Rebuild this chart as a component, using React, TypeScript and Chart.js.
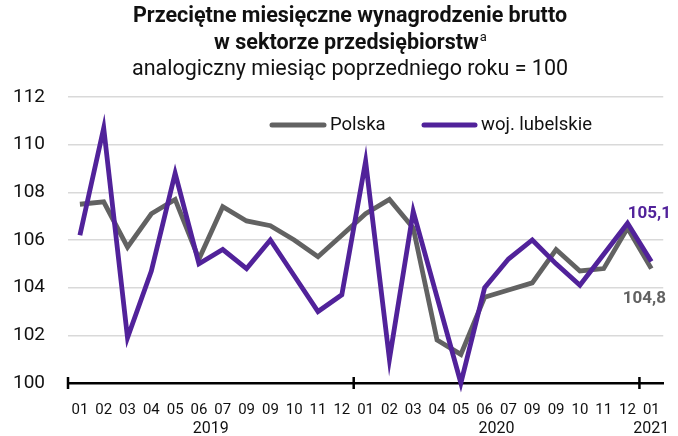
import React, { useEffect, useRef } from "react";
import { Chart, registerables } from "chart.js";

Chart.register(...registerables);

const monthLabels = [
  "01", "02", "03", "04", "05", "06", "07", "09", "09", "10", "11", "12",
  "01", "02", "03", "04", "05", "06", "07", "09", "09", "10", "11", "12",
  "01",
];
const yearLabels = ["2019", "2020", "2021"];
const yearStartIndex = [0, 12, 24];
const yearEndIndex = [11, 23, 24];

const polska = [
  107.5, 107.6, 105.7, 107.1, 107.7, 105.2, 107.4, 106.8, 106.6, 106.0, 105.3, 106.2,
  107.1, 107.7, 106.5, 101.8, 101.2, 103.6, 103.9, 104.2, 105.6, 104.7, 104.8, 106.5,
  104.8,
];
const lubelskie = [
  106.2, 110.7, 101.9, 104.7, 108.8, 105.0, 105.6, 104.8, 106.0, 104.5, 103.0, 103.7,
  109.3, 101.0, 107.2, 103.6, 100.0, 104.0, 105.2, 106.0, 105.0, 104.1, 105.4, 106.7,
  105.1,
];
const seriesNames = ["Polska", "woj. lubelskie"];
const yMin = 100;
const yMax = 112;
const yStep = 2;

const titleLine1 = "Przeciętne miesięczne wynagrodzenie brutto";
const titleLine2 = "w sektorze przedsiębiorstw";
const titleSup = "a";
const subtitle = "analogiczny miesiąc poprzedniego roku = 100";

const GRAY = "#626262";
const PURPLE = "#51229a";
const FONT = "Roboto, 'Noto Sans', sans-serif";

const fmt = (v: number) => v.toFixed(1).replace(".", ",");

const decorPlugin = {
  id: "decor",
  afterDraw(chart: any) {
    const ctx = chart.ctx;
    const xs = chart.scales.x;
    const area = chart.chartArea;
    ctx.save();

    // Title
    const cx = 350;
    ctx.fillStyle = "#111";
    ctx.textBaseline = "middle";
    ctx.textAlign = "center";
    ctx.font = `bold 21.5px ${FONT}`;
    ctx.fillText(titleLine1, cx, 17);
    const w2 = ctx.measureText(titleLine2).width;
    ctx.font = `13px ${FONT}`;
    const ws = ctx.measureText(titleSup).width;
    ctx.font = `bold 21.5px ${FONT}`;
    const start2 = cx - (w2 + ws) / 2;
    ctx.textAlign = "left";
    ctx.fillText(titleLine2, start2, 44);
    ctx.font = `13px ${FONT}`;
    ctx.fillText(titleSup, start2 + w2 + 1, 38);
    ctx.textAlign = "center";
    ctx.font = `21.5px ${FONT}`;
    ctx.fillText(subtitle, cx, 70);

    // Separator ticks on x axis
    const axisY = area.bottom;
    ctx.strokeStyle = "#000";
    ctx.lineWidth = 2.5;
    const bounds = [-0.5, 11.5, 23.5];
    bounds.forEach((b) => {
      const x = xs.getPixelForValue(b);
      ctx.beginPath();
      ctx.moveTo(x, axisY - 6);
      ctx.lineTo(x, axisY + 6);
      ctx.stroke();
    });

    // Year labels
    ctx.fillStyle = "#111";
    ctx.font = `16px ${FONT}`;
    ctx.textAlign = "center";
    ctx.textBaseline = "middle";
    yearLabels.forEach((y, i) => {
      const x = (xs.getPixelForValue(yearStartIndex[i]) + xs.getPixelForValue(yearEndIndex[i])) / 2;
      ctx.fillText(y, x, 429);
    });

    // Legend
    const legendY = 125;
    ctx.lineCap = "round";
    ctx.lineWidth = 5;
    ctx.strokeStyle = GRAY;
    ctx.beginPath();
    ctx.moveTo(272, legendY);
    ctx.lineTo(324, legendY);
    ctx.stroke();
    ctx.strokeStyle = PURPLE;
    ctx.beginPath();
    ctx.moveTo(424, legendY);
    ctx.lineTo(475, legendY);
    ctx.stroke();
    ctx.fillStyle = "#111";
    ctx.font = `18.5px ${FONT}`;
    ctx.textAlign = "left";
    ctx.fillText(seriesNames[0], 330, legendY);
    ctx.fillText(seriesNames[1], 481, legendY);

    // Data labels for last points
    const mP = chart.getDatasetMeta(0);
    const mL = chart.getDatasetMeta(1);
    const last = polska.length - 1;
    const pP = mP.data[last];
    const pL = mL.data[last];
    ctx.font = `bold 17px ${FONT}`;
    ctx.textAlign = "center";
    ctx.fillStyle = PURPLE;
    ctx.fillText(fmt(lubelskie[last]), pL.x - 2, pL.y - 48);
    ctx.fillStyle = GRAY;
    ctx.fillText(fmt(polska[last]), pP.x - 7, pP.y + 30);

    ctx.restore();
  },
};

export default function App() {
  const ref = useRef<HTMLCanvasElement | null>(null);
  useEffect(() => {
    if (!ref.current) return;
    const chart = new Chart(ref.current, {
      type: "line",
      data: {
        labels: monthLabels,
        datasets: [
          {
            label: seriesNames[0],
            data: polska,
            borderColor: GRAY,
            borderWidth: 4.8,
            pointRadius: 0,
            tension: 0,
            clip: false as any,
            order: 2,
          },
          {
            label: seriesNames[1],
            data: lubelskie,
            borderColor: PURPLE,
            borderWidth: 4.8,
            pointRadius: 0,
            tension: 0,
            clip: false as any,
            order: 1,
          },
        ],
      },
      options: {
        animation: false,
        responsive: false,
        devicePixelRatio: 1,
        layout: { padding: { top: 97, left: 8, right: 12, bottom: 0 } },
        plugins: {
          legend: { display: false },
          title: { display: false },
          tooltip: { enabled: false },
        },
        scales: {
          x: {
            type: "category",
            offset: true,
            grid: { display: false, drawTicks: false },
            border: { display: true, color: "#000", width: 2.5 },
            ticks: {
              color: "#111",
              font: { family: FONT, size: 15 },
              padding: 18,
              maxRotation: 0,
              autoSkip: false,
            },
            afterFit: (s: any) => {
              s.height = 53;
            },
          },
          y: {
            min: yMin,
            max: yMax,
            ticks: {
              stepSize: yStep,
              color: "#111",
              font: { family: FONT, size: 19 },
              padding: 23,
            },
            grid: { color: "#d9d9d9", lineWidth: 1.5, drawTicks: false },
            border: { display: false },
            afterFit: (s: any) => {
              s.width = 60;
            },
          },
        },
      },
      plugins: [decorPlugin],
    });
    return () => chart.destroy();
  }, []);
  return (
    <div style={{ position: "fixed", left: 0, top: 0, width: 678, height: 436, background: "#fff" }}>
      <canvas ref={ref} width={678} height={436} style={{ display: "block" }} />
    </div>
  );
}
